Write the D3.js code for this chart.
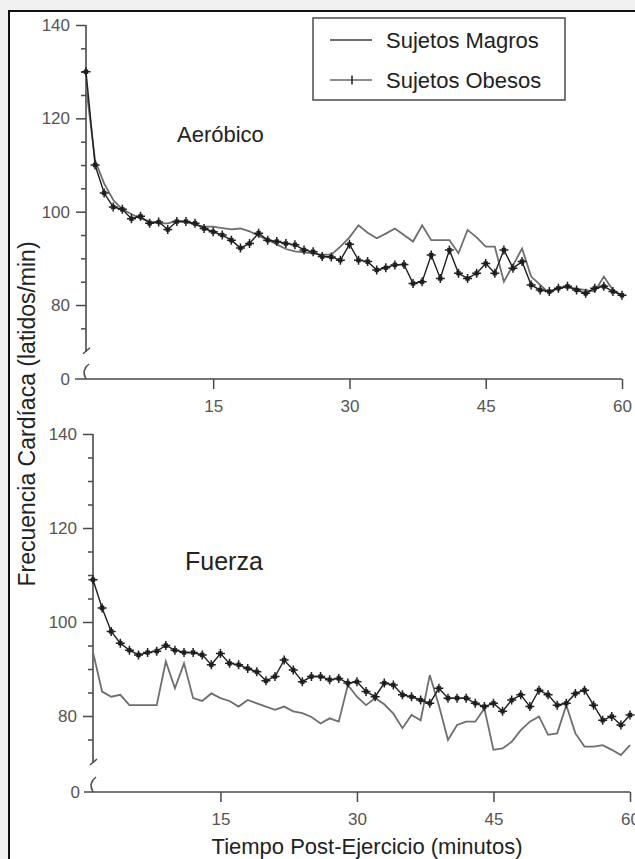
<!DOCTYPE html>
<html>
<head>
<meta charset="utf-8">
<script src="https://cdn.jsdelivr.net/npm/d3@7"></script>
<style>
    body { margin: 0; background: #f1f1f1; }
    svg { display: block; }
</style>
</head>
<body>
<svg width="635" height="859"></svg>
<script>
// Sampling times (minutes after exercise)
const minutes = d3.range(1, 61);

const aerobicLean = [127, 111, 106, 102.5, 100.5, 99.5, 98.5, 98, 97.5, 97.5,
    98, 97.8, 97.2, 96.8, 96.8, 96.5, 96.2, 96.4, 95.8, 94.8,
    94, 93, 92, 91.5, 91.3, 91, 90.8, 90.8, 92.5, 94.5,
    97.1, 95.5, 94.3, 95.3, 96.4, 95, 93.6, 97.1, 93.9, 93.9,
    93.9, 91.1, 96.1, 94.5, 92.5, 92.5, 85, 88.5, 92.1, 86.1,
    84.3, 82.5, 83.8, 83.8, 83.5, 83.2, 82.9, 86.1, 83.2, 82.1];
const aerobicObese = [130, 110, 104, 101, 100.5, 98.5, 99, 97.5, 97.8, 96.2,
    97.9, 97.9, 97.5, 96.4, 95.7, 95, 93.9, 92.2, 93.2, 95.4,
    93.9, 93.6, 93.2, 92.9, 91.8, 91.4, 90.4, 90.3, 89.6, 93,
    89.6, 89.3, 87.5, 88, 88.6, 88.7, 84.6, 85, 90.7, 85.7,
    91.8, 86.8, 85.7, 86.8, 88.9, 86.8, 91.8, 87.9, 89.3, 84.3,
    83.2, 82.9, 83.6, 84, 83.2, 82.5, 83.6, 84, 82.9, 82.1];
const strengthLean = [93.6, 85.2, 84.1, 84.5, 82.3, 82.3, 82.3, 82.3, 91.6, 85.9,
    91.2, 83.8, 83.2, 84.8, 83.8, 83.2, 82, 83.4, 82.7, 82,
    81.3, 82, 81, 80.6, 79.8, 78.4, 79.5, 78.8, 86.6, 84.1,
    82.3, 83.8, 82.5, 80.5, 77.4, 80.2, 79.1, 88.7, 82.3, 74.9,
    78.1, 78.8, 78.8, 81.6, 72.8, 73.1, 74.5, 77, 78.8, 79.9,
    76, 76.3, 82.3, 76.3, 73.5, 73.5, 73.8, 72.8, 71.7, 73.8];
const strengthObese = [109, 103, 98, 95.5, 94, 93, 93.5, 93.8, 95, 94,
    93.5, 93.5, 93, 90.9, 93.3, 91.2, 90.9, 90.1, 89.4, 87.5,
    88.4, 91.9, 89.8, 87.3, 88.4, 88.4, 87.7, 88, 87, 87.3,
    85.2, 84.1, 87, 86.6, 84.5, 84.1, 83.4, 82.7, 85.9, 83.8,
    83.8, 83.8, 82.7, 82, 82.7, 81, 83.4, 84.5, 82, 85.5,
    84.5, 82.3, 82.7, 84.8, 85.5, 82.3, 79.1, 79.9, 78.1, 80.2];

const yMajorTicks = [140, 120, 100, 80];
const yMinorTicks = [135, 130, 125, 115, 110, 105, 95, 90, 85, 75];
const xTicks = [15, 30, 45, 60];
const seriesNames = ["Sujetos Magros", "Sujetos Obesos"];

class HeartRateChart {
    constructor(_d3) {
        this.d3 = _d3;
        this.svg = this.d3.select("svg");
        this.font = "'Liberation Sans', Arial, sans-serif";
        this.axisColor = "#4a4a4a";
        this.leanColor = "#6e6e6e";
        this.obeseColor = "#1e1e1e";
    }
    render() {
        // White sheet with a black frame
        this.svg.append("rect")
            .attr("x", 9).attr("y", 11)
            .attr("width", 640).attr("height", 860)
            .attr("fill", "#fff")
            .attr("stroke", "#111")
            .attr("stroke-width", 2);

        this.renderPanel({
            x0: 86, x1: 622, xLeft: 75,
            yTop: 25, yBreak: 351.7, yZero: 379,
            labelRight: 70, lean: aerobicLean, obese: aerobicObese,
            title: "Aeróbico", titleX: 177, titleY: 142, titleSize: 22
        });
        this.renderPanel({
            x0: 93, x1: 630, xLeft: 84,
            yTop: 434, yBreak: 763, yZero: 792,
            labelRight: 80, lean: strengthLean, obese: strengthObese,
            title: "Fuerza", titleX: 185, titleY: 570, titleSize: 25
        });
        this.renderLegend();
        this.renderTitles();
    }
    renderPanel(p) {
        // One panel: axes with break, two series, panel name
        const d3 = this.d3;
        const x = d3.scaleLinear().domain([1, 60]).range([p.x0, p.x1]);
        const y = d3.scaleLinear().domain([0, 70, 140]).range([p.yZero, p.yBreak, p.yTop]);
        const g = this.svg.append("g");

        // y axis (major + minor ticks)
        const yAxis = g.append("g")
            .attr("transform", `translate(${p.x0},0)`)
            .call(d3.axisLeft(y).tickValues(yMajorTicks).tickSize(10).tickPadding(6));
        yAxis.append("g").call(d3.axisLeft(y).tickValues(yMinorTicks).tickSize(5).tickFormat(""));
        yAxis.selectAll(".domain").remove();
        g.append("line")
            .attr("x1", p.x0).attr("x2", p.x0)
            .attr("y1", y(140)).attr("y2", y(70))
            .attr("stroke", this.axisColor).attr("stroke-width", 1.6);

        // axis break marks
        g.append("path")
            .attr("d", `M${p.x0 - 3},${y(70) + 2} L${p.x0 + 4},${y(70) - 4}`)
            .attr("fill", "none").attr("stroke", this.axisColor).attr("stroke-width", 1.5);
        g.append("path")
            .attr("d", `M${p.x0 + 3},${p.yZero - 15} Q${p.x0 - 5},${p.yZero - 9} ${p.x0},${p.yZero}`)
            .attr("fill", "none").attr("stroke", this.axisColor).attr("stroke-width", 1.5);

        // x axis
        const xAxis = g.append("g")
            .attr("transform", `translate(0,${p.yZero})`)
            .call(d3.axisBottom(x).tickValues(xTicks).tickSize(10).tickPadding(11));
        xAxis.selectAll(".domain").remove();
        g.append("line")
            .attr("x1", p.xLeft).attr("x2", p.x1)
            .attr("y1", p.yZero).attr("y2", p.yZero)
            .attr("stroke", this.axisColor).attr("stroke-width", 1.6);

        g.append("text")
            .attr("x", p.labelRight).attr("y", y(0))
            .attr("dy", "0.35em")
            .attr("text-anchor", "end")
            .text("0");

        g.selectAll(".tick line").attr("stroke", this.axisColor).attr("stroke-width", 1.5);
        g.selectAll("text")
            .attr("font-family", this.font)
            .attr("font-size", 17)
            .attr("fill", "#555");

        // series
        const line = d3.line()
            .x((d, i) => x(minutes[i]))
            .y(d => y(d));
        g.append("path")
            .datum(p.lean)
            .attr("d", line)
            .attr("fill", "none")
            .attr("stroke", this.leanColor)
            .attr("stroke-width", 1.8);
        g.append("path")
            .datum(p.obese)
            .attr("d", line)
            .attr("fill", "none")
            .attr("stroke", this.obeseColor)
            .attr("stroke-width", 1.4);
        g.selectAll(".mark")
            .data(p.obese)
            .enter()
            .append("path")
            .attr("class", "mark")
            .attr("transform", (d, i) => `translate(${x(minutes[i])},${y(d)})`)
            .attr("d", "M-4.5,0H4.5M0,-4.5V4.5M-2,-2L2,2M-2,2L2,-2")
            .attr("stroke", this.obeseColor)
            .attr("stroke-width", 1.5);

        g.append("text")
            .attr("x", p.titleX).attr("y", p.titleY)
            .attr("font-family", this.font)
            .attr("font-size", p.titleSize)
            .attr("fill", "#222")
            .text(p.title);
    }
    renderLegend() {
        // Boxed legend, top right
        const g = this.svg.append("g");
        g.append("rect")
            .attr("x", 313).attr("y", 18)
            .attr("width", 252).attr("height", 82)
            .attr("fill", "#fff")
            .attr("stroke", "#555")
            .attr("stroke-width", 1.6);
        const rowY = [40, 80];
        seriesNames.forEach((name, i) => {
            g.append("line")
                .attr("x1", 330).attr("x2", 372)
                .attr("y1", rowY[i]).attr("y2", rowY[i])
                .attr("stroke", i === 0 ? this.leanColor : this.obeseColor)
                .attr("stroke-width", i === 0 ? 1.8 : 1.2);
            if (i === 1) {
                g.append("path")
                    .attr("transform", `translate(352,${rowY[i]})`)
                    .attr("d", "M0,-4.5V4.5")
                    .attr("stroke", this.obeseColor)
                    .attr("stroke-width", 1.5);
            }
            g.append("text")
                .attr("x", 386).attr("y", rowY[i] + 7.5)
                .attr("font-family", this.font)
                .attr("font-size", 22)
                .attr("fill", "#222")
                .text(name);
        });
    }
    renderTitles() {
        // Shared axis titles
        this.svg.append("text")
            .attr("x", 367).attr("y", 854)
            .attr("text-anchor", "middle")
            .attr("font-family", this.font)
            .attr("font-size", 22)
            .attr("fill", "#222")
            .text("Tiempo Post-Ejercicio (minutos)");
        this.svg.append("text")
            .attr("transform", "translate(35,414) rotate(-90)")
            .attr("text-anchor", "middle")
            .attr("font-family", this.font)
            .attr("font-size", 23)
            .attr("fill", "#222")
            .text("Frecuencia Cardíaca (latidos/min)");
    }
}

new HeartRateChart(d3).render();
</script>
</body>
</html>
